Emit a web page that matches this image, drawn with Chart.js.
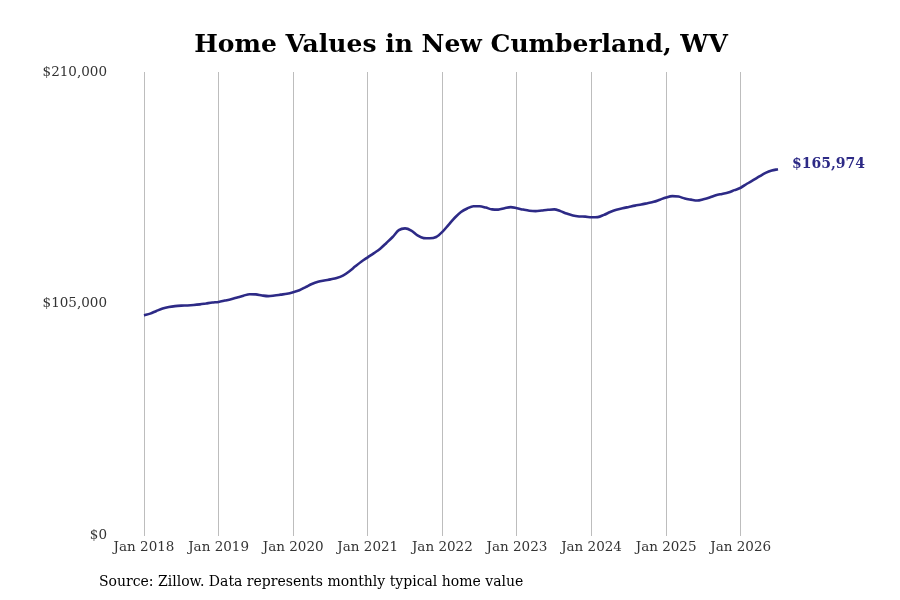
<!DOCTYPE html>
<html>
<head>
<meta charset="utf-8">
<script src="https://cdn.jsdelivr.net/npm/chart.js@4.4.1/dist/chart.umd.min.js"></script>
<style>
html,body{margin:0;padding:0;background:#fff;}
#wrap{width:900px;height:600px;position:relative;}
</style>
</head>
<body>
<div id="wrap"><canvas id="c" width="900" height="600"></canvas></div>
<script>
const titleText = 'Home Values in New Cumberland, WV';
const sourceText = 'Source: Zillow. Data represents monthly typical home value';
const startYear = 2018;
const monthNames = ['Jan','Feb','Mar','Apr','May','Jun','Jul','Aug','Sep','Oct','Nov','Dec'];
// Monthly typical home values, Jan 2018 – Jul 2026 (USD)
const homeValues = [
  99800,100600,101800,102900,103600,104000,104200,104300,104500,104800,105200,105600,
  105900,106500,107100,107900,108700,109400,109300,108800,108500,108800,109200,109600,
  110300,111200,112600,114000,115000,115600,116100,116700,117800,119700,122000,124200,
  126100,128000,130000,132600,135300,138400,139200,138200,136000,134800,134700,135300,
  137600,140800,144000,146600,148200,149200,149200,148600,147800,147700,148300,148800,
  148300,147700,147200,147000,147300,147600,147800,147000,145900,145000,144600,144500,
  144200,144300,145300,146600,147600,148300,148900,149500,150000,150600,151200,152200,
  153200,153800,153600,152700,152200,151800,152400,153200,154200,154800,155400,156500,
  157600,159400,161000,162700,164300,165400,165974
];
const yTicks = [0, 105000, 210000];
const lineColor = '#2d2a86';

const monthLabels = homeValues.map((v, i) => monthNames[i % 12] + ' ' + (startYear + Math.floor(i / 12)));
const fmt = v => '$' + v.toLocaleString('en-US');

const endLabel = {
  id: 'endLabel',
  afterDatasetsDraw(chart) {
    const meta = chart.getDatasetMeta(0);
    const last = meta.data[meta.data.length - 1];
    const ctx = chart.ctx;
    ctx.save();
    ctx.font = 'bold 14px "DejaVu Serif"';
    ctx.fillStyle = lineColor;
    ctx.textAlign = 'left';
    ctx.textBaseline = 'middle';
    ctx.fillText(fmt(homeValues[homeValues.length - 1]), last.x + 14, last.y - 5);
    ctx.restore();
  },
  afterDraw(chart) {
    const ctx = chart.ctx;
    ctx.save();
    ctx.font = '14px "DejaVu Serif"';
    ctx.fillStyle = '#000';
    ctx.textAlign = 'left';
    ctx.textBaseline = 'middle';
    ctx.fillText(sourceText, 99, 582);
    ctx.restore();
  }
};

new Chart(document.getElementById('c'), {
  type: 'line',
  data: {
    labels: monthLabels,
    datasets: [{
      data: homeValues,
      borderColor: lineColor,
      borderWidth: 2.6,
      pointRadius: 0,
      tension: 0.4,
      cubicInterpolationMode: 'monotone',
      fill: false
    }]
  },
  options: {
    responsive: false,
    animation: false,
    devicePixelRatio: 1,
    layout: { padding: { left: 22, right: 0, top: 0, bottom: 40 } },
    plugins: {
      legend: { display: false },
      tooltip: { enabled: false },
      title: {
        display: true,
        text: titleText,
        color: '#000',
        font: { family: 'DejaVu Serif', size: 25, weight: 'bold' },
        padding: { top: 30, bottom: 12 }
      }
    },
    scales: {
      x: {
        type: 'category',
        offset: false,
        grid: {
          drawTicks: false,
          color: ctx => (ctx.index % 12 === 0 && ctx.index < homeValues.length - 1) ? '#bdbdbd' : 'rgba(0,0,0,0)',
          lineWidth: 1
        },
        border: { display: false },
        ticks: {
          autoSkip: false,
          maxRotation: 0,
          padding: 4,
          color: '#333',
          font: { family: 'DejaVu Serif', size: 13.5 },
          callback: function(val, idx) { return idx % 12 === 0 ? monthLabels[idx] : ''; }
        }
      },
      y: {
        min: 0,
        max: 210000,
        afterBuildTicks: s => { s.ticks = yTicks.map(v => ({ value: v })); },
        afterFit: s => { s.width = 122; },
        grid: { display: false, drawTicks: false },
        border: { display: false },
        ticks: {
          padding: 37,
          color: '#333',
          font: { family: 'DejaVu Serif', size: 13.5 },
          callback: v => fmt(v)
        }
      },
      y2: {
        position: 'right',
        display: true,
        afterFit: s => { s.width = 122; },
        grid: { display: false, drawTicks: false },
        border: { display: false },
        ticks: { display: false }
      }
    }
  },
  plugins: [endLabel]
});
</script>
</body>
</html>
